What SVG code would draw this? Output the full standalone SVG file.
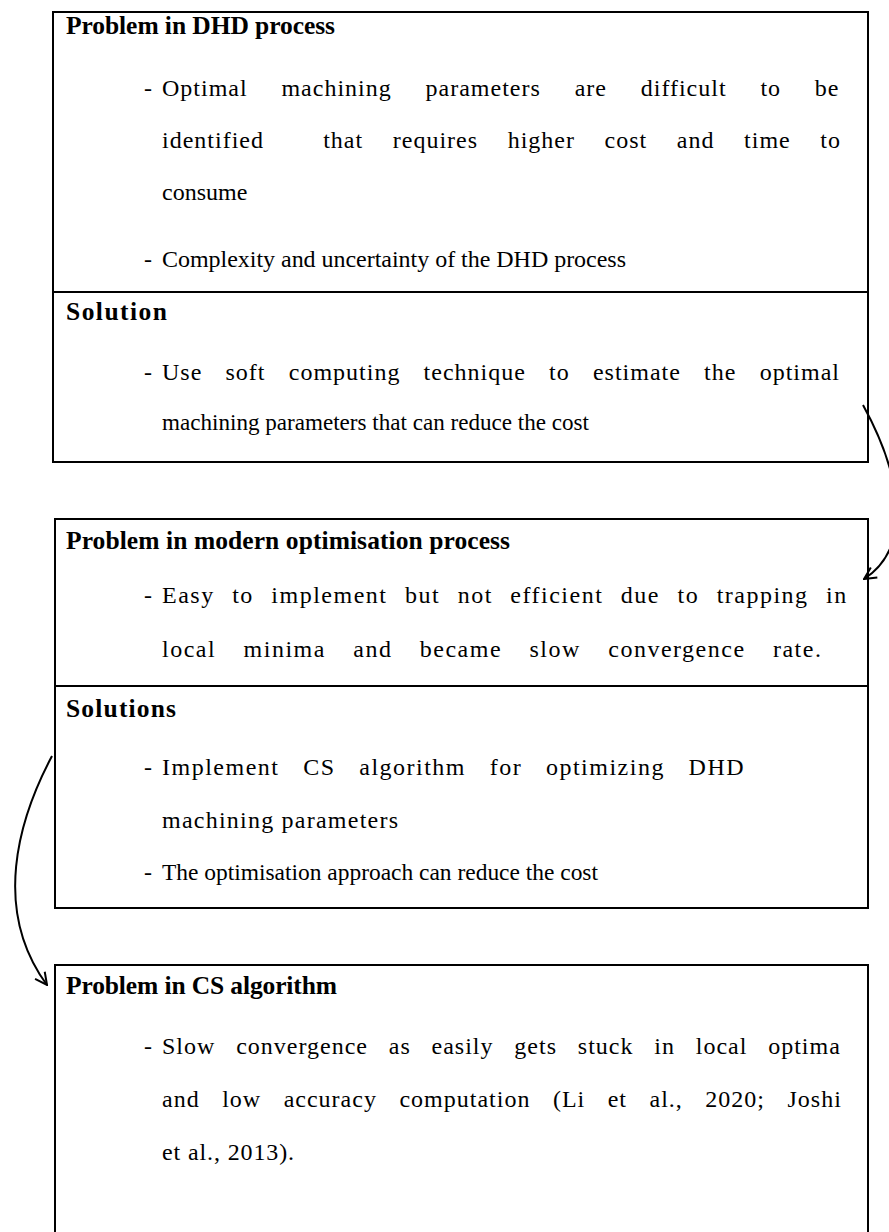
<svg xmlns="http://www.w3.org/2000/svg" width="889" height="1232" viewBox="0 0 889 1232">
<style>
.box{fill:#fff;stroke:#000;stroke-width:2}
.div{stroke:#000;stroke-width:2}
.t{font-family:"Liberation Serif","Times New Roman",serif;font-size:24px;fill:#000}
.b{font-weight:bold;font-size:25.5px}
.j{letter-spacing:1px}
.k{letter-spacing:1.5px}
.c{fill:none;stroke:#000;stroke-width:2}
</style>
<defs>
<marker id="ah" viewBox="0 0 14 14" refX="13" refY="7" markerWidth="14" markerHeight="14" markerUnits="userSpaceOnUse" orient="auto">
<path d="M1 1 L13 7 L1 13" fill="none" stroke="#000" stroke-width="2"/>
</marker>
</defs>
<rect width="889" height="1232" fill="#fff"/>
<g id="node1">
<rect class="box" x="53" y="12" width="815" height="450"/>
<line class="div" x1="53" y1="292" x2="868" y2="292"/>
<text class="t b" x="66" y="34" textLength="269" lengthAdjust="spacing">Problem in DHD process</text>
<text class="t" x="144" y="96">-</text>
<text class="t j" x="162" y="96" word-spacing="26.8">Optimal machining parameters are difficult to be</text>
<text class="t j" x="162" y="148" word-spacing="22.6" xml:space="preserve">identified  that requires higher cost and time to</text>
<text class="t" x="162" y="200">consume</text>
<text class="t" x="144" y="267">-</text>
<text class="t" x="162" y="267" textLength="464" lengthAdjust="spacing">Complexity and uncertainty of the DHD process</text>
<text class="t b" x="66" y="320" textLength="101" lengthAdjust="spacing">Solution</text>
<text class="t" x="144" y="380">-</text>
<text class="t j" x="162" y="380" word-spacing="16.2">Use soft computing technique to estimate the optimal</text>
<text class="t" x="162" y="430" textLength="427" lengthAdjust="spacingAndGlyphs">machining parameters that can reduce the cost</text>
</g>
<g id="node2">
<rect class="box" x="55" y="519" width="813" height="389"/>
<line class="div" x1="55" y1="686" x2="868" y2="686"/>
<text class="t b" x="66" y="549" textLength="444" lengthAdjust="spacing">Problem in modern optimisation process</text>
<text class="t" x="144" y="603">-</text>
<text class="t k" x="162" y="603" word-spacing="10">Easy to implement but not efficient due to trapping in</text>
<text class="t k" x="162" y="657" word-spacing="19.9">local minima and became slow convergence rate.</text>
<text class="t b" x="66" y="717" textLength="110" lengthAdjust="spacing">Solutions</text>
<text class="t" x="144" y="775">-</text>
<text class="t k" x="162" y="775" word-spacing="16.2">Implement CS algorithm for optimizing DHD</text>
<text class="t" x="162" y="828" textLength="236" lengthAdjust="spacing">machining parameters</text>
<text class="t" x="144" y="880">-</text>
<text class="t" x="162" y="880" textLength="436" lengthAdjust="spacingAndGlyphs">The optimisation approach can reduce the cost</text>
</g>
<g id="node3">
<rect class="box" x="55" y="965" width="813" height="290"/>
<text class="t b" x="66" y="994" textLength="271" lengthAdjust="spacing">Problem in CS algorithm</text>
<text class="t" x="144" y="1054">-</text>
<text class="t j" x="162" y="1054" word-spacing="13.8">Slow convergence as easily gets stuck in local optima</text>
<text class="t j" x="162" y="1107" word-spacing="15.5">and low accuracy computation (Li et al., 2020; Joshi</text>
<text class="t" x="162" y="1160" textLength="132" lengthAdjust="spacing">et al., 2013).</text>
</g>
<g id="connectors">
<path class="c" d="M863 405 C903 478 912 548 864 579" marker-end="url(#ah)"/>
<path class="c" d="M52 756 C18 820 -8 910 47 985" marker-end="url(#ah)"/>
</g>
</svg>
